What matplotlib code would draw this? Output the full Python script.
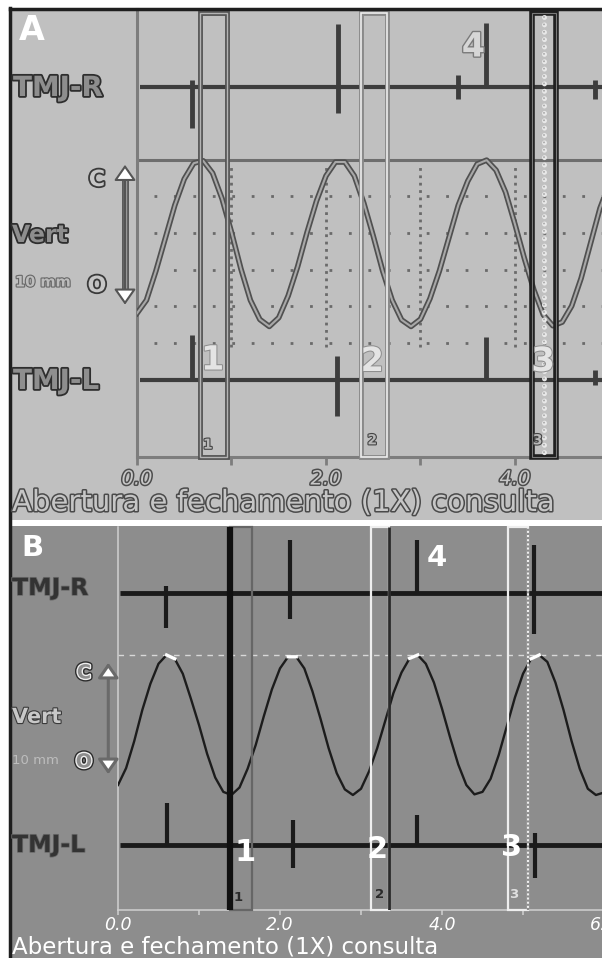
import numpy as np
import matplotlib
matplotlib.use("Agg")
import matplotlib.pyplot as plt
from matplotlib.patches import Rectangle, FancyArrowPatch
from matplotlib.lines import Line2D
import matplotlib.patheffects as pe

plt.rcParams['lines.scale_dashes'] = False
plt.rcParams['font.family'] = ['DejaVu Sans']

# ---------------- data ----------------
# Panel A: vertical jaw displacement (mm, 0 = C level), sampled every 0.1 s
time_a = np.round(np.arange(0, 5.01, 0.1), 2)
vert_a = [-10.5, -9.6, -7.6, -5.35, -3.1, -1.3, -0.22, -0.05, -0.9, -2.65,
          -4.95, -7.46, -9.6, -10.92, -11.4, -10.8, -9.3, -7.3, -4.95, -2.8,
          -1.09, -0.14, -0.14, -1.09, -2.95, -5.2, -7.6, -9.6, -10.95, -11.4,
          -10.9, -9.5, -7.6, -5.35, -3.1, -1.45, -0.28, -0.01, -0.7, -2.2,
          -4.4, -6.75, -8.9, -10.6, -11.35, -11.1, -10.0, -8.1, -5.7, -3.3, -1.6]

# Panel B
time_b = np.round(np.arange(0, 6.01, 0.1), 2)
vert_b = [-10.4, -9.05, -6.9, -4.4, -2.3, -0.7, 0.0, -0.3, -1.5, -3.5,
          -5.6, -7.9, -9.8, -10.95, -11.2, -10.6, -9.1, -7.2, -4.9, -2.75,
          -1.07, -0.14, -0.14, -1.07, -2.9, -5.1, -7.45, -9.45, -10.75, -11.2,
          -10.7, -9.3, -7.45, -5.25, -3.05, -1.4, -0.27, 0.0, -0.7, -2.2,
          -4.3, -6.6, -8.75, -10.4, -11.15, -10.95, -9.9, -8.0, -5.7, -3.4,
          -1.5, -0.3, 0.0, -0.55, -2.2, -4.4, -6.9, -9.1, -10.7, -11.2, -11.0]

# EMG channel baselines (mm-equivalent offsets) and spikes (time, up, down)
base_r, base_l = 5.0, -15.1
a_r_t = [0.58, 2.13, 3.40, 3.69, 4.85]
a_r_up = [0.5, 4.3, 0.8, 4.4, 0.5]
a_r_dn = [2.8, 1.8, 0.8, 0.0, 0.8]
a_l_t = [0.58, 2.12, 3.69, 4.85]
a_l_up = [3.1, 1.7, 3.0, 0.7]
a_l_dn = [0.0, 2.4, 0.0, 0.3]

b_r_t = [0.59, 2.12, 3.69, 5.14]
b_r_up = [0.5, 4.2, 4.2, 3.8]
b_r_dn = [2.8, 2.1, 0.0, 3.3]
b_l_t = [0.60, 2.16, 3.69, 5.15]
b_l_up = [3.4, 2.0, 2.4, 1.0]
b_l_dn = [0.0, 1.8, 0.0, 2.6]

# cursor windows
a_box_t0 = [0.667, 2.37, 4.18]
a_box_t1 = [0.952, 2.65, 4.43]
b_box_t0 = [1.383, 3.123, 4.815]
b_box_t1 = [1.654, 3.346, 5.062]
box_labels = ['1', '2', '3']

xtick_vals = [0, 1, 2, 3, 4]
xtick_labels = ['0.0', '', '2.0', '', '4.0']
grid_t = [1, 2, 3, 4]
grid_mm = [-2.5, -5, -7.5, -10, -12.5]

title = 'Abertura e fechamento (1X) consulta'

# ---------------- figure ----------------
W, H = 602, 958
BG_A = '#c0c0c0'
BG_B = '#8d8d8d'
fig = plt.figure(figsize=(W / 100, H / 100), dpi=100)
fig.patch.set_facecolor('white')


def fx(x):
    return x / W


def fy(y):
    return 1 - y / H


def rect(x0, y0, x1, y1):
    return [x0 / W, 1 - y1 / H, (x1 - x0) / W, (y1 - y0) / H]


fig.add_artist(Rectangle((fx(10), fy(520)), (W - 10) / W, (520 - 9) / H,
                         transform=fig.transFigure, facecolor=BG_A, edgecolor='none', zorder=0))
fig.add_artist(Rectangle((fx(10), fy(958)), (W - 10) / W, (958 - 526) / H,
                         transform=fig.transFigure, facecolor=BG_B, edgecolor='none', zorder=0))
fig.add_artist(Line2D([fx(10), fx(10)], [fy(8), fy(958)], transform=fig.transFigure,
                      color='#1e1e1e', lw=2.5, zorder=1))
fig.add_artist(Line2D([fx(10), fx(602)], [fy(9), fy(9)], transform=fig.transFigure,
                      color='#1e1e1e', lw=2.5, zorder=1))

outline = lambda w, c: [pe.Stroke(linewidth=w, foreground=c), pe.Normal()]

# ================= PANEL A =================
axA = fig.add_axes(rect(137, 9, 602, 457))
axA.set_facecolor('none')
a_ylo, a_yhi = -20.34, 10.34
axA.set_xlim(0, 4.921)
axA.set_ylim(a_ylo, a_yhi)
for s in ['top', 'right']:
    axA.spines[s].set_visible(False)
for s in ['left', 'bottom']:
    axA.spines[s].set_color('#7d7d7d')
    axA.spines[s].set_linewidth(2.2)
axA.set_yticks([])
axA.set_xticks(xtick_vals)
axA.set_xticklabels(xtick_labels)
axA.tick_params(axis='x', direction='out', length=6, width=2, color='#7d7d7d',
                labelsize=14, pad=3)
for lbl in axA.get_xticklabels():
    lbl.set_fontstyle('italic')
    lbl.set_color('#c8c8c8')
    lbl.set_path_effects(outline(2.2, '#4d4d4d'))

# dotted grid
axA.hlines(grid_mm, 0.18, 4.921, colors='#6a6a6a', lw=2, linestyles=[(0, (2, 12))], zorder=1)
axA.vlines(grid_t, -12.8, -0.35, colors='#6a6a6a', lw=2, linestyles=[(0, (2, 3.3))], zorder=1)

# C level line
axA.axhline(0, color='#6e6e6e', lw=2.2, zorder=2)

# vertical trace
axA.plot(time_a, vert_a, color='#a8a8a8', lw=1.5, zorder=3,
         path_effects=[pe.Stroke(linewidth=4.0, foreground='#505050'), pe.Normal()])

# EMG channels
for base, ts, ups, dns in [(base_r, a_r_t, a_r_up, a_r_dn), (base_l, a_l_t, a_l_up, a_l_dn)]:
    axA.hlines(base, 0.03, 4.921, colors='#3d3d3d', lw=3, zorder=3)
    axA.vlines(ts, [base - d for d in dns], [base + u for u in ups], colors='#3d3d3d', lw=3.5, zorder=3)

# cursor boxes
a_box_top = 10.07
a_box_styles = [('#555555', 3.5, '#b4b4b4', 1.0), ('#8a8a8a', 3.5, '#eeeeee', 1.2),
                ('#1f1f1f', 4.0, '#7a7a7a', 0.8)]
for t0, t1, (c1, w1, c2, w2) in zip(a_box_t0, a_box_t1, a_box_styles):
    for c, w in [(c1, w1), (c2, w2)]:
        axA.add_patch(Rectangle((t0, a_ylo), t1 - t0, a_box_top - a_ylo, facecolor='none',
                                edgecolor=c, lw=w, zorder=4, clip_on=False))
# ring column inside box 3
cx = (a_box_t0[2] + a_box_t1[2]) / 2
axA.plot([cx, cx], [a_box_top - 0.3, a_ylo + 0.3], ls=(0, (0.01, 5.3)), lw=3.6, color='#e8e8e8',
         dash_capstyle='round', zorder=5)
axA.plot([cx, cx], [a_box_top - 0.3, a_ylo + 0.3], ls=(0, (0.01, 5.3)), lw=1.4, color='#a8a8a8',
         dash_capstyle='round', zorder=5)

# numbers
for t, y, s in [(0.80, -13.7, '1'), (2.49, -13.8, '2'), (4.30, -13.8, '3')]:
    axA.text(t, y, s, ha='center', va='center', fontsize=24, fontweight='bold', color='#e4e4e4',
             path_effects=outline(1.5, '#8e8e8e'), zorder=6)
axA.text(3.56, 7.74, '4', ha='center', va='center', fontsize=24, fontweight='bold', color='#d6d6d6',
         path_effects=outline(2, '#7a7a7a'), zorder=6)
for t, y, s in zip([0.75, 2.49, 4.24], [-19.5, -19.2, -19.2], box_labels):
    axA.text(t, y, s, ha='center', va='center', fontsize=10, fontweight='bold', color='#b8b8b8',
             path_effects=outline(1.6, '#444444'), zorder=6)

# scale arrow
ax_arrow_x = -0.127
axA.plot([ax_arrow_x, ax_arrow_x], [-9.2, -0.9], color='#9c9c9c', lw=2.4, clip_on=False, zorder=5,
         path_effects=[pe.Stroke(linewidth=5, foreground='#5a5a5a'), pe.Normal()])
axA.add_patch(FancyArrowPatch((ax_arrow_x, -10.1), (ax_arrow_x, -0.14),
                              arrowstyle='<|-|>,head_length=0.6,head_width=0.42', mutation_scale=16,
                              facecolor='white', edgecolor='#555555', lw=1.5, clip_on=False, zorder=6))

# left labels
lab_dark = dict(fontweight='bold', color='#8e8e8e', va='center', ha='left',
                path_effects=outline(2.6, '#2e2e2e'))
fig.text(fx(13), fy(88), 'TMJ-R', fontsize=20, **lab_dark)
fig.text(fx(13), fy(381), 'TMJ-L', fontsize=20, **lab_dark)
fig.text(fx(12), fy(235), 'Vert', fontsize=17, **lab_dark)
fig.text(fx(15), fy(282), '10 mm', fontsize=10.5, fontweight='bold', color='#bdbdbd', va='center',
         ha='left', path_effects=outline(1.6, '#666666'))
for y, s in [(180, 'C'), (286, 'O')]:
    fig.text(fx(97), fy(y), s, fontsize=16, fontweight='bold', color='#c6c6c6', va='center',
             ha='center', path_effects=outline(2.6, '#3a3a3a'))
fig.text(fx(32), fy(31), 'A', fontsize=24, fontweight='bold', color='white', va='center', ha='center')
fig.text(fx(12), fy(503), title, fontsize=21, color='#c6c6c6', va='center', ha='left',
         path_effects=outline(2.2, '#4a4a4a'))

# ================= PANEL B =================
axB = fig.add_axes(rect(118, 527, 602, 910))
axB.set_facecolor('none')
b_ylo, b_yhi = -20.4, 10.24
axB.set_xlim(0, 5.975)
axB.set_ylim(b_ylo, b_yhi)
for s in ['top', 'right']:
    axB.spines[s].set_visible(False)
for s in ['left', 'bottom']:
    axB.spines[s].set_color('#d0d0d0')
    axB.spines[s].set_linewidth(1.1)
axB.set_yticks([])
axB.set_xticks(xtick_vals + [5])
axB.set_xticklabels(xtick_labels + [''])
axB.tick_params(axis='x', direction='out', length=3.5, width=1.1, color='#d0d0d0',
                labelsize=12.5, labelcolor='white', pad=0.5)
for lbl in axB.get_xticklabels():
    lbl.set_fontstyle('italic')
axB.annotate('6.0', xy=(6.0, 0), xycoords=('data', 'axes fraction'), xytext=(0, -5.6),
             textcoords='offset pixels', ha='center', va='top', fontsize=12.5, fontstyle='italic',
             color='white', annotation_clip=False)

# C level dashed line
axB.axhline(0, color='#d8d8d8', lw=1.0, ls=(0, (4, 4)), zorder=2)

# vertical trace
vb = np.array(vert_b)
axB.plot(time_b, vb, color='#1c1c1c', lw=1.7, zorder=3)
axB.plot(time_b, np.where(vb > -0.35, vb, np.nan), color='white', lw=2.4, zorder=3)

# EMG channels
for base, ts, ups, dns in [(base_r, b_r_t, b_r_up, b_r_dn), (-15.2, b_l_t, b_l_up, b_l_dn)]:
    axB.hlines(base, 0.02, 5.975, colors='#1a1a1a', lw=3.5, zorder=3)
    axB.vlines(ts, [base - d for d in dns], [base + u for u in ups], colors='#1a1a1a', lw=3, zorder=3)

# cursor boxes
b_h = b_yhi - b_ylo
axB.add_patch(Rectangle((b_box_t0[0], b_ylo), b_box_t1[0] - b_box_t0[0], b_h, facecolor='none',
                        edgecolor='#666666', lw=1.6, zorder=4, clip_on=False))
axB.vlines(b_box_t0[0], b_ylo, b_yhi, colors='#101010', lw=4.5, zorder=4)
axB.add_patch(Rectangle((b_box_t0[1], b_ylo), b_box_t1[1] - b_box_t0[1], b_h, facecolor='none',
                        edgecolor='#eeeeee', lw=1.6, zorder=4, clip_on=False))
axB.vlines(b_box_t1[1], b_ylo, b_yhi, colors='#2a2a2a', lw=2, zorder=4)
axB.add_patch(Rectangle((b_box_t0[2], b_ylo), b_box_t1[2] - b_box_t0[2], b_h, facecolor='none',
                        edgecolor='#eeeeee', lw=1.6, zorder=4, clip_on=False))
axB.vlines(b_box_t1[2], b_ylo, b_yhi, colors=BG_B, lw=1.6, linestyles=[(0, (1.5, 1.5))], zorder=4)

# numbers
for t, y, s in [(1.57, -15.8, '1'), (3.20, -15.6, '2'), (4.86, -15.4, '3')]:
    axB.text(t, y, s, ha='center', va='center', fontsize=22, fontweight='bold', color='white', zorder=6)
axB.text(3.93, 7.8, '4', ha='center', va='center', fontsize=21, fontweight='bold', color='white', zorder=6)
for t, y, s, c in zip([1.48, 3.23, 4.88], [-19.4, -19.2, -19.2], box_labels,
                      ['#2a2a2a', '#2a2a2a', '#e0e0e0']):
    axB.text(t, y, s, ha='center', va='center', fontsize=9.5, fontweight='bold', color=c, zorder=6)

# scale arrow
bx = -0.12
axB.add_patch(FancyArrowPatch((bx, -9.76), (bx, -0.4),
                              arrowstyle='<|-|>,head_length=0.6,head_width=0.42', mutation_scale=15,
                              facecolor='white', edgecolor='#6a6a6a', lw=2.2, clip_on=False, zorder=6))

# left labels
fig.text(fx(12), fy(588), 'TMJ-R', fontsize=17, fontweight='bold', color='#333333', va='center',
         ha='left', path_effects=outline(1.2, '#6a6a6a'))
fig.text(fx(12), fy(845), 'TMJ-L', fontsize=17, fontweight='bold', color='#333333', va='center',
         ha='left', path_effects=outline(1.2, '#6a6a6a'))
fig.text(fx(12), fy(717), 'Vert', fontsize=15, fontweight='bold', color='#c8c8c8', va='center',
         ha='left', path_effects=outline(1.6, '#3a3a3a'))
fig.text(fx(12), fy(760), '10 mm', fontsize=9.5, color='#bdbdbd', va='center', ha='left')
for y, s in [(673, 'C'), (762, 'O')]:
    fig.text(fx(84), fy(y), s, fontsize=14, fontweight='bold', color=BG_B, va='center', ha='center',
             path_effects=[pe.Stroke(linewidth=4, foreground='#2a2a2a'),
                           pe.Stroke(linewidth=2, foreground='#eeeeee'), pe.Normal()])
fig.text(fx(32), fy(548), 'B', fontsize=21, fontweight='bold', color='white', va='center', ha='center')
fig.text(fx(12), fy(954), title, fontsize=16.5, color='white', va='baseline', ha='left')

fig.savefig('out.png', dpi=100, facecolor='white')
